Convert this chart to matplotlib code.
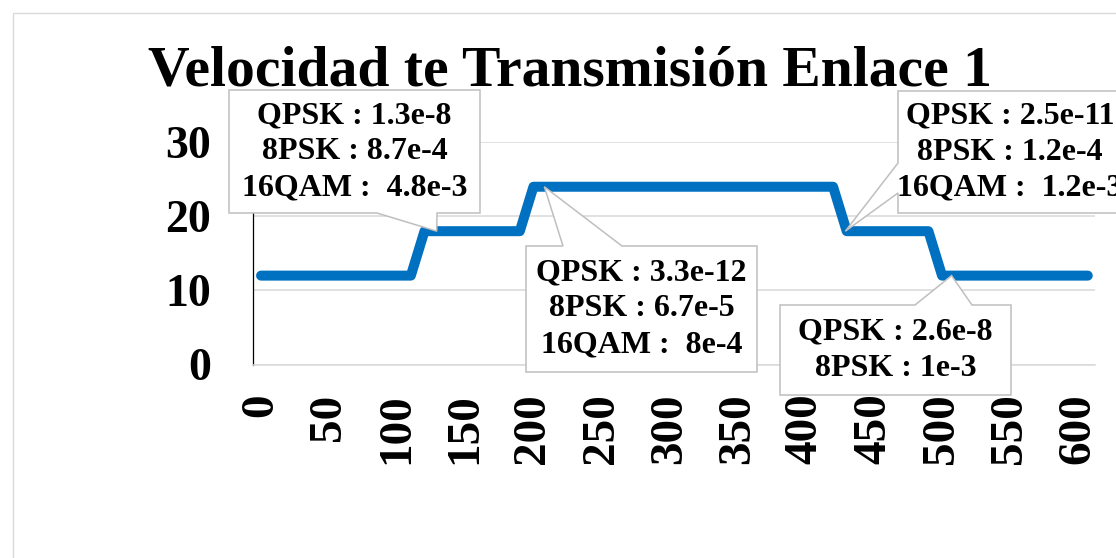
import matplotlib
matplotlib.use("Agg")
import matplotlib.pyplot as plt
from matplotlib.patches import Polygon, Rectangle
from matplotlib.transforms import IdentityTransform

# data
x_vals = [0, 110, 120, 190, 200, 420, 430, 490, 500, 607]
rate = [12, 12, 18, 18, 24, 24, 18, 18, 12, 12]
x_ticks = list(range(0, 601, 50))
y_ticks = [0, 10, 20, 30]

label_x = [129, 208, 429, 507]
label_y = [18, 24, 18, 12]
label_text = [
    "QPSK : 1.3e-8\n8PSK : 8.7e-4\n16QAM :  4.8e-3",
    "QPSK : 3.3e-12\n8PSK : 6.7e-5\n16QAM :  8e-4",
    "QPSK : 2.5e-11\n8PSK : 1.2e-4\n16QAM :  1.2e-3",
    "QPSK : 2.6e-8\n8PSK : 1e-3",
]
title = "Velocidad te Transmisión Enlace 1"

W, H = 1116, 558
SERIF = "Liberation Serif"
GRID = "#D9D9D9"
EDGE = "#BFBFBF"

fig = plt.figure(figsize=(W / 100, H / 100), dpi=100)
fig.patch.set_facecolor("white")

# outer chart-area border (cropped on the right and bottom)
fig.add_artist(Rectangle((12.5 / W, -0.2), 1.5, 1.2 - 12.5 / H, transform=fig.transFigure,
                         fill=False, ec=GRID, lw=1.0, clip_on=False))

ax = fig.add_axes([253 / W, 1 - 364.5 / H, (1095 - 253) / W, (364.5 - 142.3) / H])
ax.plot(x_vals, rate, color="#0070C0", lw=7.2, solid_capstyle="round", solid_joinstyle="round", zorder=3)
ax.set_xlim(-5.9, 612.3)
ax.set_ylim(0, 30)
ax.set_xticks(x_ticks)
ax.set_yticks(y_ticks)
ax.set_xticklabels([str(v) for v in x_ticks], rotation=90, fontsize=34, fontweight="bold", family=SERIF)
ax.set_yticklabels([str(v) for v in y_ticks], fontsize=33, fontweight="bold", family=SERIF)
ax.tick_params(axis="x", length=0, pad=21)
ax.tick_params(axis="y", length=0, pad=30)
ax.grid(axis="y", color=GRID, lw=1.1)
ax.set_axisbelow(True)
for s in ["top", "right"]:
    ax.spines[s].set_visible(False)
ax.spines["bottom"].set_color(GRID)
ax.spines["bottom"].set_linewidth(1.1)
ax.spines["left"].set_color("black")
ax.spines["left"].set_linewidth(0.9)

fig.text(570 / W, 1 - 86 / H, title, ha="center", va="baseline", fontsize=41.5,
         fontweight="bold", family=SERIF)

# callout boxes: (x0, y0, x1, y1) in pixels from top-left, side with pointer, pointer base span
boxes = [
    ((229, 90, 480, 213), "bottom", (377, 437)),
    ((526, 246, 757, 372), "top", (563, 622)),
    ((898, 91, 1122, 213), "left", (163, 193)),
    ((780, 305, 1011, 395), "top", (915, 972)),
]


def callout(box, side, base, tip):
    x0, y0, x1, y1 = box
    b0, b1 = base
    if side == "bottom":
        pts = [(x0, y0), (x1, y0), (x1, y1), (b1, y1), tip, (b0, y1), (x0, y1)]
    elif side == "top":
        pts = [(x0, y0), (b0, y0), tip, (b1, y0), (x1, y0), (x1, y1), (x0, y1)]
    else:
        pts = [(x0, y0), (x1, y0), (x1, y1), (x0, y1), (x0, b1), tip, (x0, b0)]
    pts = [(px, H - py) for px, py in pts]
    fig.add_artist(Polygon(pts, closed=True, fc="white", ec=EDGE, lw=1.1,
                           transform=IdentityTransform(), zorder=5))


for (box, side, base), lx, ly, txt in zip(boxes, label_x, label_y, label_text):
    tx, ty = ax.transData.transform((lx, ly))
    callout(box, side, base, (tx, H - ty))
    cx = (box[0] + box[2]) / 2
    cy = (box[1] + box[3]) / 2
    fig.text(cx / W, 1 - cy / H, txt, ha="center", va="center", multialignment="center",
             fontsize=23, fontweight="bold", family=SERIF, linespacing=1.32, zorder=6)

fig.savefig("out.png", dpi=100)
plt.close(fig)
